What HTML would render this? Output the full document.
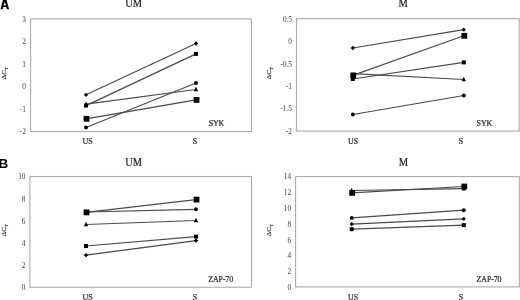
<!DOCTYPE html>
<html><head><meta charset="utf-8"><style>
html,body{margin:0;padding:0;background:#fff;width:520px;height:300px;overflow:hidden}
svg{display:block;filter:grayscale(1)}
text{font-family:"Liberation Serif",serif;stroke:#222;stroke-width:0.18px}
.lbl{stroke:none}
.tk{stroke:none}
.lbl{font-family:"Liberation Sans",sans-serif;font-weight:bold}
</style></head><body>
<svg width="520" height="300" viewBox="0 0 520 300">
<rect width="520" height="300" fill="#fff"/>
<path d="M0.5 9.2L3.2 -0.8L6.3 -0.8L9.1 9.2L6.9 9.2L6.3 7L3.3 7L2.7 9.2ZM4.8 1.9L6.15 5.6L3.45 5.6Z" fill="#000" fill-rule="evenodd"/>
<text class="lbl" x="-1.5" y="168" font-size="13.6" fill="#000">B</text>
<rect x="30.6" y="18.9" width="220.8" height="112.6" fill="none" stroke="#ababab" stroke-width="1.1"/>
<text x="25.8" y="21.9" class="tk" text-anchor="end" font-size="7.3" fill="#3a3a3a">3</text>
<text x="25.8" y="44.3" class="tk" text-anchor="end" font-size="7.3" fill="#3a3a3a">2</text>
<text x="25.8" y="66.7" class="tk" text-anchor="end" font-size="7.3" fill="#3a3a3a">1</text>
<text x="25.8" y="89.1" class="tk" text-anchor="end" font-size="7.3" fill="#3a3a3a">0</text>
<text x="25.8" y="111.5" class="tk" text-anchor="end" font-size="7.3" fill="#3a3a3a">-1</text>
<text x="25.8" y="133.9" class="tk" text-anchor="end" font-size="7.3" fill="#3a3a3a">-2</text>
<line x1="86" y1="94.8" x2="196" y2="43.5" stroke="#4a4a4a" stroke-width="1.2"/>
<line x1="86" y1="105.6" x2="196" y2="53.9" stroke="#4a4a4a" stroke-width="1.2"/>
<line x1="86" y1="104.2" x2="196" y2="89.5" stroke="#4a4a4a" stroke-width="1.2"/>
<line x1="86" y1="118.8" x2="196" y2="99.9" stroke="#4a4a4a" stroke-width="1.2"/>
<line x1="86" y1="127.5" x2="196" y2="83" stroke="#4a4a4a" stroke-width="1.2"/>
<path d="M86 92.65L88.15 94.8L86 96.95L83.85 94.8Z" fill="#000"/>
<path d="M196 41.35L198.15 43.5L196 45.65L193.85 43.5Z" fill="#000"/>
<rect x="84" y="103.6" width="4" height="4" fill="#000"/>
<rect x="194" y="51.9" width="4" height="4" fill="#000"/>
<path d="M86 101.5L88.15 106L83.85 106Z" fill="#000"/>
<path d="M196 86.8L198.15 91.3L193.85 91.3Z" fill="#000"/>
<rect x="83.6" y="115.9" width="5.8" height="5.8" fill="#000"/>
<rect x="193.6" y="97" width="5.8" height="5.8" fill="#000"/>
<circle cx="86" cy="127.5" r="1.95" fill="#000"/>
<circle cx="196" cy="83" r="1.95" fill="#000"/>
<text transform="translate(133.7 7.4) scale(0.89 1)" text-anchor="middle" font-size="11.8" fill="#222">UM</text>
<text x="208.7" y="125.8" font-size="8" letter-spacing="-0.15" fill="#222">SYK</text>
<text transform="translate(6.2 79.5) rotate(-90) scale(1 0.93)" font-size="7.5" fill="#222">&#916;C<tspan font-size="4.4" dy="2.1">T</tspan></text>
<text x="87.7" y="143.6" text-anchor="middle" font-size="8" fill="#222">US</text>
<text x="195" y="143.6" text-anchor="middle" font-size="8" fill="#222">S</text>
<rect x="296.5" y="18.7" width="222.7" height="112.4" fill="none" stroke="#ababab" stroke-width="1.1"/>
<text x="292" y="21.65" class="tk" text-anchor="end" font-size="7.3" fill="#3a3a3a">0.5</text>
<text x="292" y="44.1" class="tk" text-anchor="end" font-size="7.3" fill="#3a3a3a">0</text>
<text x="292" y="66.55" class="tk" text-anchor="end" font-size="7.3" fill="#3a3a3a">-0.5</text>
<text x="292" y="89" class="tk" text-anchor="end" font-size="7.3" fill="#3a3a3a">-1</text>
<text x="292" y="111.45" class="tk" text-anchor="end" font-size="7.3" fill="#3a3a3a">-1.5</text>
<text x="292" y="133.9" class="tk" text-anchor="end" font-size="7.3" fill="#3a3a3a">-2</text>
<line x1="352.8" y1="48" x2="463.8" y2="29.7" stroke="#4a4a4a" stroke-width="1.2"/>
<line x1="352.8" y1="73.6" x2="463.8" y2="79.5" stroke="#4a4a4a" stroke-width="1.2"/>
<line x1="352.8" y1="79" x2="463.8" y2="62.4" stroke="#4a4a4a" stroke-width="1.2"/>
<line x1="352.8" y1="75.4" x2="463.8" y2="35.8" stroke="#4a4a4a" stroke-width="1.2"/>
<line x1="352.8" y1="114.5" x2="463.8" y2="95.5" stroke="#4a4a4a" stroke-width="1.2"/>
<path d="M352.8 45.85L354.95 48L352.8 50.15L350.65 48Z" fill="#000"/>
<path d="M463.8 27.55L465.95 29.7L463.8 31.85L461.65 29.7Z" fill="#000"/>
<path d="M352.8 72.7L354.95 77.2L350.65 77.2Z" fill="#000"/>
<path d="M463.8 76.8L465.95 81.3L461.65 81.3Z" fill="#000"/>
<rect x="350.8" y="77" width="4" height="4" fill="#000"/>
<rect x="461.8" y="60.4" width="4" height="4" fill="#000"/>
<rect x="350.4" y="72.5" width="5.8" height="5.8" fill="#000"/>
<rect x="461.4" y="32.9" width="5.8" height="5.8" fill="#000"/>
<circle cx="352.8" cy="114.5" r="1.95" fill="#000"/>
<circle cx="463.8" cy="95.5" r="1.95" fill="#000"/>
<text transform="translate(403.1 7.2) scale(0.89 1)" text-anchor="middle" font-size="11.8" fill="#222">M</text>
<text x="476.6" y="125.8" font-size="8" letter-spacing="-0.15" fill="#222">SYK</text>
<text transform="translate(271.4 79.5) rotate(-90) scale(1 0.93)" font-size="7.5" fill="#222">&#916;C<tspan font-size="4.4" dy="2.1">T</tspan></text>
<text x="353.2" y="143.6" text-anchor="middle" font-size="8" fill="#222">US</text>
<text x="461" y="143.6" text-anchor="middle" font-size="8" fill="#222">S</text>
<rect x="29.9" y="176.5" width="221.6" height="110.7" fill="none" stroke="#ababab" stroke-width="1.1"/>
<text x="25.5" y="179.4" class="tk" text-anchor="end" font-size="7.3" fill="#3a3a3a">10</text>
<text x="25.5" y="201.5" class="tk" text-anchor="end" font-size="7.3" fill="#3a3a3a">8</text>
<text x="25.5" y="223.6" class="tk" text-anchor="end" font-size="7.3" fill="#3a3a3a">6</text>
<text x="25.5" y="245.7" class="tk" text-anchor="end" font-size="7.3" fill="#3a3a3a">4</text>
<text x="25.5" y="267.8" class="tk" text-anchor="end" font-size="7.3" fill="#3a3a3a">2</text>
<text x="25.5" y="289.9" class="tk" text-anchor="end" font-size="7.3" fill="#3a3a3a">0</text>
<line x1="86" y1="255.2" x2="196" y2="240.6" stroke="#4a4a4a" stroke-width="1.2"/>
<line x1="86" y1="246" x2="196" y2="236.6" stroke="#4a4a4a" stroke-width="1.2"/>
<line x1="86" y1="224.5" x2="196" y2="220.5" stroke="#4a4a4a" stroke-width="1.2"/>
<line x1="86" y1="212" x2="196" y2="209.3" stroke="#4a4a4a" stroke-width="1.2"/>
<line x1="86" y1="212.4" x2="196" y2="199.6" stroke="#4a4a4a" stroke-width="1.2"/>
<path d="M86 253.05L88.15 255.2L86 257.35L83.85 255.2Z" fill="#000"/>
<path d="M196 238.45L198.15 240.6L196 242.75L193.85 240.6Z" fill="#000"/>
<rect x="84" y="244" width="4" height="4" fill="#000"/>
<rect x="194" y="234.6" width="4" height="4" fill="#000"/>
<path d="M86 221.8L88.15 226.3L83.85 226.3Z" fill="#000"/>
<path d="M196 217.8L198.15 222.3L193.85 222.3Z" fill="#000"/>
<circle cx="86" cy="212" r="1.95" fill="#000"/>
<circle cx="196" cy="209.3" r="1.95" fill="#000"/>
<rect x="83.6" y="209.5" width="5.8" height="5.8" fill="#000"/>
<rect x="193.6" y="196.7" width="5.8" height="5.8" fill="#000"/>
<text transform="translate(133.7 165.9) scale(0.89 1)" text-anchor="middle" font-size="11.8" fill="#222">UM</text>
<text x="208.2" y="282" font-size="8" letter-spacing="-0.15" fill="#222">ZAP-70</text>
<text transform="translate(6.3 236.5) rotate(-90) scale(1 0.93)" font-size="7.5" fill="#222">&#916;C<tspan font-size="4.4" dy="2.1">T</tspan></text>
<text x="87.7" y="299.6" text-anchor="middle" font-size="8" fill="#222">US</text>
<text x="195" y="299.6" text-anchor="middle" font-size="8" fill="#222">S</text>
<rect x="295.6" y="176.6" width="223.7" height="110.3" fill="none" stroke="#ababab" stroke-width="1.1"/>
<text x="291.1" y="179.3" class="tk" text-anchor="end" font-size="7.3" fill="#3a3a3a">14</text>
<text x="291.1" y="195.1" class="tk" text-anchor="end" font-size="7.3" fill="#3a3a3a">12</text>
<text x="291.1" y="210.9" class="tk" text-anchor="end" font-size="7.3" fill="#3a3a3a">10</text>
<text x="291.1" y="226.7" class="tk" text-anchor="end" font-size="7.3" fill="#3a3a3a">8</text>
<text x="291.1" y="242.5" class="tk" text-anchor="end" font-size="7.3" fill="#3a3a3a">6</text>
<text x="291.1" y="258.3" class="tk" text-anchor="end" font-size="7.3" fill="#3a3a3a">4</text>
<text x="291.1" y="274.1" class="tk" text-anchor="end" font-size="7.3" fill="#3a3a3a">2</text>
<text x="291.1" y="289.9" class="tk" text-anchor="end" font-size="7.3" fill="#3a3a3a">0</text>
<line x1="351.7" y1="229.2" x2="463.8" y2="225.1" stroke="#4a4a4a" stroke-width="1.2"/>
<line x1="351.7" y1="224.1" x2="463.8" y2="218.8" stroke="#4a4a4a" stroke-width="1.2"/>
<line x1="351.7" y1="217.9" x2="463.8" y2="210.2" stroke="#4a4a4a" stroke-width="1.2"/>
<line x1="351.7" y1="190.5" x2="463.8" y2="188.7" stroke="#4a4a4a" stroke-width="1.2"/>
<line x1="351.7" y1="192.9" x2="463.8" y2="186.5" stroke="#4a4a4a" stroke-width="1.2"/>
<rect x="349.7" y="227.2" width="4" height="4" fill="#000"/>
<rect x="461.8" y="223.1" width="4" height="4" fill="#000"/>
<path d="M351.7 221.95L353.85 224.1L351.7 226.25L349.55 224.1Z" fill="#000"/>
<path d="M463.8 216.65L465.95 218.8L463.8 220.95L461.65 218.8Z" fill="#000"/>
<circle cx="351.7" cy="217.9" r="1.95" fill="#000"/>
<circle cx="463.8" cy="210.2" r="1.95" fill="#000"/>
<path d="M351.7 187.8L353.85 192.3L349.55 192.3Z" fill="#000"/>
<path d="M463.8 186L465.95 190.5L461.65 190.5Z" fill="#000"/>
<rect x="349.3" y="190" width="5.8" height="5.8" fill="#000"/>
<rect x="461.4" y="183.6" width="5.8" height="5.8" fill="#000"/>
<text transform="translate(403.3 165.9) scale(0.89 1)" text-anchor="middle" font-size="11.8" fill="#222">M</text>
<text x="476.6" y="282" font-size="8" letter-spacing="-0.15" fill="#222">ZAP-70</text>
<text transform="translate(271.4 236.5) rotate(-90) scale(1 0.93)" font-size="7.5" fill="#222">&#916;C<tspan font-size="4.4" dy="2.1">T</tspan></text>
<text x="353.2" y="299.6" text-anchor="middle" font-size="8" fill="#222">US</text>
<text x="461" y="299.6" text-anchor="middle" font-size="8" fill="#222">S</text>
</svg>
</body></html>
